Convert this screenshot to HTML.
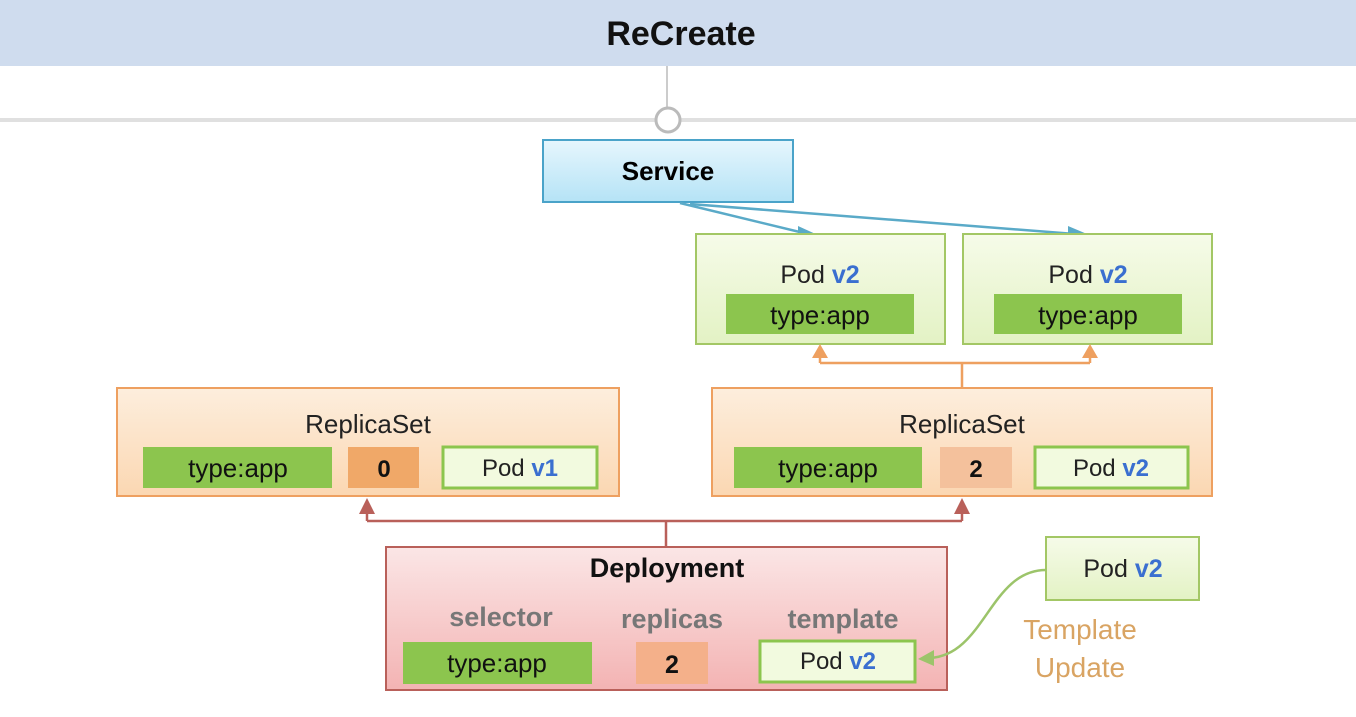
<!DOCTYPE html>
<html><head><meta charset="utf-8"><style>
body{margin:0;width:1356px;height:712px;overflow:hidden;background:#fff;font-family:"Liberation Sans","Noto Sans CJK KR",sans-serif}
</style></head><body>
<svg width="1356" height="712" xmlns="http://www.w3.org/2000/svg" font-family="Liberation Sans, Noto Sans CJK KR, sans-serif">
<defs>
<linearGradient id="sv" x1="0" y1="0" x2="0" y2="1"><stop offset="0" stop-color="#e6f6fd"/><stop offset="1" stop-color="#b5e3f6"/></linearGradient>
<linearGradient id="rs" x1="0" y1="0" x2="0" y2="1"><stop offset="0" stop-color="#fdeedd"/><stop offset="1" stop-color="#fbd7b2"/></linearGradient>
<linearGradient id="dp" x1="0" y1="0" x2="0" y2="1"><stop offset="0" stop-color="#fbe6e6"/><stop offset="1" stop-color="#f3b3b3"/></linearGradient>
<linearGradient id="pd" x1="0" y1="0" x2="0" y2="1"><stop offset="0" stop-color="#f6fbe9"/><stop offset="1" stop-color="#e3f2c4"/></linearGradient>
<marker id="ab" markerWidth="8" markerHeight="8" refX="7" refY="4" orient="auto" markerUnits="userSpaceOnUse"><path d="M0,0 L8,4 L0,8z" fill="#5aaac8"/></marker>
</defs>
<rect x="0" y="0" width="1356" height="66" fill="#cfdcee"/>
<text x="681" y="45" font-size="34" font-weight="bold" text-anchor="middle" fill="#111">ReCreate</text>
<line x1="667" y1="66" x2="667" y2="110" stroke="#bbb" stroke-width="1.5"/>
<rect x="0" y="118" width="1356" height="4" fill="#e0e0e0"/>
<circle cx="668" cy="120" r="12" fill="#fff" stroke="#bbb" stroke-width="3"/>

<rect x="543" y="140" width="250" height="62" fill="url(#sv)" stroke="#4aa3c9" stroke-width="2"/>
<text x="668" y="180" font-size="26" font-weight="bold" text-anchor="middle">Service</text>
<path d="M680,203 L808,234" stroke="#5aaac8" stroke-width="2.5" fill="none"/>
<path d="M798,226 L820,236 L798,240z" fill="#5aaac8"/>
<path d="M690,204 L1075,234" stroke="#5aaac8" stroke-width="2.5" fill="none"/>
<path d="M1068,226 L1087,234 L1068,241z" fill="#5aaac8"/>

<g>
<rect x="696" y="234" width="249" height="110" fill="url(#pd)" stroke="#a3c765" stroke-width="2"/>
<text x="820" y="283" font-size="25" text-anchor="middle" fill="#222">Pod <tspan fill="#3a6fd0" font-weight="bold">v2</tspan></text>
<rect x="726" y="294" width="188" height="40" fill="#8cc54e"/>
<text x="820" y="324" font-size="26" text-anchor="middle" fill="#111">type:app</text>
<rect x="963" y="234" width="249" height="110" fill="url(#pd)" stroke="#a3c765" stroke-width="2"/>
<text x="1088" y="283" font-size="25" text-anchor="middle" fill="#222">Pod <tspan fill="#3a6fd0" font-weight="bold">v2</tspan></text>
<rect x="994" y="294" width="188" height="40" fill="#8cc54e"/>
<text x="1088" y="324" font-size="26" text-anchor="middle" fill="#111">type:app</text>
</g>

<path d="M962,388 L962,363 M820,363 L1090,363 M820,363 L820,354 M1090,363 L1090,354" stroke="#eea060" stroke-width="2.5" fill="none"/>
<path d="M812,358 L820,344 L828,358z M1082,358 L1090,344 L1098,358z" fill="#eea060"/>

<rect x="117" y="388" width="502" height="108" fill="url(#rs)" stroke="#eea060" stroke-width="2"/>
<text x="368" y="433" font-size="26" text-anchor="middle" fill="#222">ReplicaSet</text>
<rect x="143" y="447" width="189" height="41" fill="#8cc54e"/>
<text x="238" y="477" font-size="26" text-anchor="middle" fill="#111">type:app</text>
<rect x="348" y="447" width="71" height="41" fill="#f0a868"/>
<text x="384" y="477" font-size="24" font-weight="bold" text-anchor="middle" fill="#111">0</text>
<rect x="443" y="447" width="154" height="41" fill="#f2fadf" stroke="#8cc54e" stroke-width="3"/>
<text x="520" y="476" font-size="24" text-anchor="middle" fill="#222">Pod <tspan fill="#3a6fd0" font-weight="bold">v1</tspan></text>

<rect x="712" y="388" width="500" height="108" fill="url(#rs)" stroke="#eea060" stroke-width="2"/>
<text x="962" y="433" font-size="26" text-anchor="middle" fill="#222">ReplicaSet</text>
<rect x="734" y="447" width="188" height="41" fill="#8cc54e"/>
<text x="828" y="477" font-size="26" text-anchor="middle" fill="#111">type:app</text>
<rect x="940" y="447" width="72" height="41" fill="#f4c19c"/>
<text x="976" y="477" font-size="24" font-weight="bold" text-anchor="middle" fill="#111">2</text>
<rect x="1035" y="447" width="153" height="41" fill="#f2fadf" stroke="#8cc54e" stroke-width="3"/>
<text x="1111" y="476" font-size="24" text-anchor="middle" fill="#222">Pod <tspan fill="#3a6fd0" font-weight="bold">v2</tspan></text>

<path d="M666,547 L666,521 M367,521 L962,521 M367,521 L367,510 M962,521 L962,510" stroke="#b9605a" stroke-width="2.5" fill="none"/>
<path d="M359,514 L367,498 L375,514z M954,514 L962,498 L970,514z" fill="#b9605a"/>

<rect x="386" y="547" width="561" height="143" fill="url(#dp)" stroke="#b9605a" stroke-width="2"/>
<text x="667" y="577" font-size="27" font-weight="bold" text-anchor="middle" fill="#111">Deployment</text>
<text x="501" y="626" font-size="27" font-weight="bold" text-anchor="middle" fill="#777">selector</text>
<text x="672" y="628" font-size="27" font-weight="bold" text-anchor="middle" fill="#777">replicas</text>
<text x="843" y="628" font-size="27" font-weight="bold" text-anchor="middle" fill="#777">template</text>
<rect x="403" y="642" width="189" height="42" fill="#8cc54e"/>
<text x="497" y="672" font-size="26" text-anchor="middle" fill="#111">type:app</text>
<rect x="636" y="642" width="72" height="42" fill="#f4b08a"/>
<text x="672" y="673" font-size="25" font-weight="bold" text-anchor="middle" fill="#111">2</text>
<rect x="760" y="641" width="155" height="41" fill="#f2fadf" stroke="#8cc54e" stroke-width="3"/>
<text x="838" y="669" font-size="24" text-anchor="middle" fill="#222">Pod <tspan fill="#3a6fd0" font-weight="bold">v2</tspan></text>

<rect x="1046" y="537" width="153" height="63" fill="url(#pd)" stroke="#a3c765" stroke-width="2"/>
<text x="1123" y="577" font-size="25" text-anchor="middle" fill="#222">Pod <tspan fill="#3a6fd0" font-weight="bold">v2</tspan></text>
<path d="M1046,570 C990,570 985,655 930,658" stroke="#9cc46a" stroke-width="2.5" fill="none"/>
<path d="M934,650 L918,659 L934,666z" fill="#9cc46a"/>
<text x="1080" y="639" font-size="28" text-anchor="middle" fill="#d9a463">Template</text>
<text x="1080" y="677" font-size="28" text-anchor="middle" fill="#d9a463">Update</text>
</svg>
</body></html>
